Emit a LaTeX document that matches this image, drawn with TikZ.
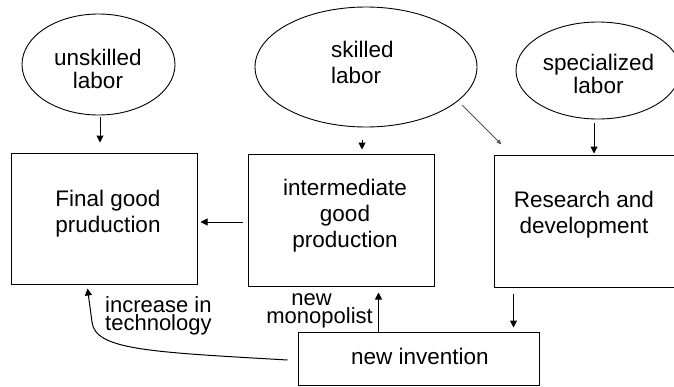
\documentclass[tikz,border=0pt]{standalone}
\usepackage{fontspec}
\setmainfont{Liberation Sans}
\usetikzlibrary{shapes.geometric,arrows.meta,calc}
\begin{document}
\begin{tikzpicture}[x=1pt,y=-1pt,
  box/.style={draw=black,line width=1pt,rectangle,inner sep=0pt},
  oval/.style={draw=black,line width=0.9pt,ellipse,inner sep=0pt},
  txt/.style={inner sep=0pt,align=center,font=\fontsize{22.5}{26}\selectfont},
  otxt/.style={inner sep=0pt,font=\fontsize{22.5}{23}\selectfont},
  lbl/.style={inner sep=0pt,font=\fontsize{22}{18.5}\selectfont},
  arr/.style={line width=1pt,-{Triangle[length=7pt,width=7pt]}},
  thin arr/.style={draw=black!65,line width=0.8pt,-{Triangle[length=5pt,width=4pt]}}
]
\useasboundingbox (0,0) rectangle (674,386);
\clip (0,0) rectangle (674,386);
\fill[white] (0,0) rectangle (674,386);

% ellipses
\node[oval,minimum width=153pt,minimum height=101pt] (unsk) at (98.5,64.5) {};
\node[oval,minimum width=222pt,minimum height=120pt] (skl) at (366,67) {};
\node[oval,minimum width=164pt,minimum height=97pt] (spc) at (598,70.5) {};
\node[otxt,align=center] (tunsk) at (98,68.5) {unskilled\\labor};
\node[otxt,align=left,anchor=west,font=\fontsize{22.5}{26}\selectfont] (tskl) at (331,62) {skilled\\labor};
\node[otxt,align=center] (tspc) at (598.5,73.5) {specialized\\labor};

% boxes
\node[box,minimum width=186pt,minimum height=131pt] (final) at (104,218.5) {};
\node[box,minimum width=186pt,minimum height=132pt] (inter) at (341,220) {};
\node[box,minimum width=186pt,minimum height=132pt] (rd) at (587,221) {};
\node[box,minimum width=241pt,minimum height=53pt] (newinv) at (418.5,358.5) {};
\node[txt] (tfinal) at (108,214) {Final good\\pruduction};
\node[txt] (tinter) at (345,216) {intermediate\\good\\production};
\node[txt] (trd) at (584,215) {Research and\\development};
\node[txt] (tnew) at (420,356) {new invention};

% labels
\node[lbl,align=left,anchor=west] (tinc) at (105,316) {increase in\\technology};
\node[lbl,align=center,anchor=east] (tmono) at (373,311) {new\hspace*{16pt}\\monopolist};

% connectors
\coordinate (a1) at ($(unsk.south)+(1.5,0)$);
\draw[arr,shorten <=2pt,shorten >=10pt] (a1) -- (a1 |- final.north);
\coordinate (a2) at ($(skl.south)+(-4,0)$);
\draw[arr,shorten <=13pt,shorten >=4pt] (a2) -- (a2 |- inter.north);
\coordinate (a3) at ($(spc.south)+(-4,0)$);
\draw[arr,shorten <=4pt,shorten >=1pt] (a3) -- (a3 |- rd.north);
\coordinate (a4) at ($(inter.west)+(0,2)$);
\draw[arr,shorten <=5pt,shorten >=3pt] (a4) -- (a4 -| final.east);
\coordinate (a5) at ($(rd.south west)+(20,0)$);
\draw[arr,shorten <=6pt,shorten >=4pt] (a5) -- (a5 |- newinv.north);
\coordinate (a6) at ($(inter.south east)+(-56,0)$);
\draw[arr,shorten >=6pt] (a6 |- newinv.north) -- (a6);
\draw[thin arr] ($(skl.center)+(96,38)$) -- ($(rd.north west)+(8,-10)$);
\coordinate (c1) at ($(newinv.west)+(-10,1.5)$);
\coordinate (c2) at ($(final.south west)+(77,4)$);
\draw[arr] (c1) .. controls (150,352) and (95,350) .. (92,322) -- (c2);
\end{tikzpicture}
\end{document}
